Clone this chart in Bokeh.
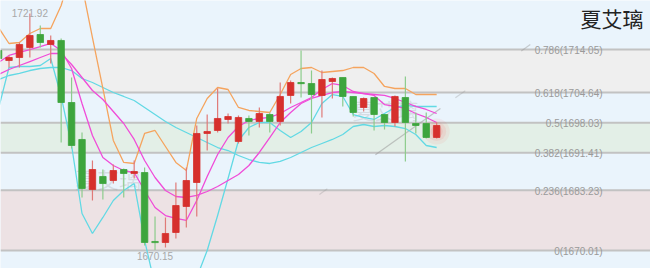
from bokeh.plotting import figure
from bokeh.models import Range1d, Label
from bokeh.embed import file_html
from bokeh.resources import INLINE
from bokeh.core.properties import value

# ---------------- data ----------------
idx = list(range(-1, 42))
opens = [1713.83, 1711.64, 1712.30, 1714.49, 1717.34, 1715.15, 1716.03, 1702.44, 1694.34, 1683.38,
         1686.23, 1685.35, 1687.76, 1686.89, 1687.10, 1671.99, 1671.77, 1673.96, 1679.66, 1684.91,
         1695.65, 1696.31, 1698.72, 1693.90, 1698.94, 1698.28, 1699.81, 1698.28, 1703.98, 1706.82,
         1706.60, 1703.98, 1707.04, 1707.92, 1703.76, 1701.35, 1703.54, 1699.81, 1698.06, 1703.54,
         1697.84, 1697.84, 1694.78]
highs = [1714.49, 1712.74, 1715.59, 1721.92, 1719.31, 1717.12, 1716.46, 1707.92, 1695.87, 1689.73,
         1687.76, 1688.86, 1687.98, 1689.73, 1688.20, 1677.46, 1677.25, 1684.91, 1688.20, 1697.40,
         1699.81, 1705.51, 1700.03, 1699.59, 1699.59, 1701.35, 1700.25, 1706.82, 1707.26, 1713.83,
         1709.45, 1709.45, 1707.92, 1707.92, 1703.76, 1703.54, 1703.54, 1699.81, 1703.98, 1708.14,
         1700.25, 1700.25, 1698.06]
lows = [1711.21, 1710.11, 1710.11, 1712.30, 1714.49, 1710.99, 1693.68, 1692.36, 1681.63, 1680.97,
        1681.19, 1684.69, 1681.63, 1685.79, 1671.11, 1670.15, 1670.67, 1672.64, 1675.05, 1677.46,
        1691.92, 1695.87, 1697.84, 1693.46, 1695.21, 1696.97, 1695.87, 1697.40, 1702.22, 1703.54,
        1695.65, 1699.16, 1703.32, 1701.57, 1699.37, 1700.47, 1696.31, 1696.53, 1697.18, 1689.51,
        1695.65, 1694.56, 1694.56]
closes = [1712.08, 1712.30, 1715.15, 1717.12, 1715.59, 1716.03, 1702.44, 1693.02, 1683.60, 1687.76,
          1684.69, 1687.54, 1686.89, 1687.32, 1671.77, 1671.77, 1673.74, 1679.87, 1685.35, 1695.65,
          1696.09, 1698.94, 1699.37, 1699.16, 1698.28, 1700.03, 1698.28, 1703.76, 1706.82, 1706.60,
          1704.19, 1707.48, 1707.70, 1703.76, 1700.25, 1703.32, 1699.81, 1698.06, 1703.76, 1698.06,
          1697.40, 1694.78, 1697.40]

upper_band = [1718.87, 1715.37, 1715.59, 1717.56, 1718.66, 1718.66, 1723.69, 1731.36, 1728.08, 1716.68,
              1705.51, 1694.12, 1689.30, 1689.08, 1695.65, 1696.31, 1692.80, 1689.30, 1687.54, 1698.94,
              1703.32, 1705.73, 1705.29, 1701.35, 1700.69, 1700.47, 1700.25, 1704.19, 1708.58, 1709.89,
              1710.11, 1709.01, 1709.23, 1709.45, 1710.11, 1710.11, 1708.80, 1705.95, 1705.51, 1705.51,
              1704.19, 1704.19, 1704.19]
ma_fast = [1711.21, 1712.74, 1713.40, 1714.05, 1714.71, 1715.37, 1713.83, 1709.89, 1702.22, 1695.21,
           1690.39, 1688.64, 1687.54, 1687.10, 1683.16, 1679.44, 1677.68, 1677.03, 1676.59, 1680.97,
           1686.23, 1691.05, 1694.77, 1697.18, 1698.50, 1698.94, 1699.16, 1700.03, 1701.35, 1702.44,
           1703.54, 1705.29, 1706.60, 1706.17, 1704.85, 1704.41, 1703.98, 1702.00, 1701.57, 1701.13,
           1700.03, 1699.16, 1698.06]
ma_slow = [1708.58, 1709.67, 1710.55, 1711.42, 1712.30, 1713.18, 1713.18, 1710.77, 1707.92, 1705.07,
           1703.10, 1700.47, 1697.84, 1694.34, 1689.73, 1686.01, 1683.16, 1681.85, 1681.63, 1682.07,
           1682.94, 1684.04, 1685.35, 1686.67, 1688.64, 1691.49, 1694.77, 1698.06, 1700.25, 1702.22,
           1703.32, 1703.98, 1704.63, 1704.85, 1704.63, 1704.41, 1704.19, 1703.98, 1703.32, 1702.44,
           1701.57, 1700.91, 1700.03]
cyan_fast = [1701.13, 1710.11, 1710.33, 1710.33, 1710.55, 1712.08, 1703.76, 1693.02, 1678.12, 1673.74,
             1677.25, 1680.97, 1683.16, 1684.69, 1672.21, 1662.35, 1657.97, 1656.87, 1660.16, 1664.10,
             1670.01, 1677.68, 1685.79, 1694.12, 1696.97, 1698.06, 1698.06, 1696.31, 1694.77, 1696.09,
             1698.06, 1702.22, 1704.19, 1703.76, 1699.81, 1699.16, 1698.72, 1700.03, 1701.35, 1701.79,
             1701.57, 1701.57, 1701.57]
cyan_slow = [1707.48, 1708.36, 1708.80, 1709.45, 1709.89, 1710.11, 1710.11, 1709.45, 1707.70, 1706.82,
             1705.73, 1704.63, 1703.76, 1702.88, 1701.35, 1699.81, 1698.28, 1696.97, 1695.87, 1694.77,
             1693.68, 1692.58, 1691.92, 1690.83, 1689.95, 1689.30, 1689.08, 1689.52, 1690.39, 1691.49,
             1692.58, 1693.46, 1694.34, 1695.43, 1697.18, 1697.62, 1697.18, 1697.40, 1697.18, 1696.74,
             1695.43, 1693.02, 1692.58]

fib_ratios = ["0.786", "0.618", "0.5", "0.382", "0.236", "0"]
fib_prices = [1714.05, 1704.64, 1698.03, 1691.41, 1683.23, 1670.01]
high_label = "1721.92"
low_label = "1670.15"
title_text = "夏艾璃"

# ---------------- styling / layout ----------------
X0, X1 = -0.815, 61.5
Y0, Y1 = 1666.07, 1724.79
BG = "#eaf4fc"
RED, RED_WICK = "#d6302d", "#e07a78"
GREEN, GREEN_WICK = "#3da53d", "#8ccc8c"

p = figure(width=650, height=268, output_backend="svg", toolbar_location=None,
           x_range=Range1d(X0, X1), y_range=Range1d(Y0, Y1),
           x_axis_location=None, y_axis_location=None,
           min_border=0, min_border_left=0, min_border_right=0,
           min_border_top=0, min_border_bottom=0)
p.grid.visible = False
p.outline_line_color = None
p.background_fill_color = BG
p.border_fill_color = BG

# fib bands
band_pairs = [(0, 1, "#efefef"), (2, 3, "#e3efe7"), (4, 5, "#ede2e4")]
p.quad(left=[X0] * 3, right=[X1] * 3,
       top=[fib_prices[a] for a, b, c in band_pairs],
       bottom=[fib_prices[b] for a, b, c in band_pairs],
       fill_color=[c for a, b, c in band_pairs], line_color=None)
# fib level lines
p.segment(x0=[X0] * 6, x1=[X1] * 6, y0=fib_prices, y1=fib_prices,
          line_color="#c2c2c2", line_width=2)
# fib labels
p.text(x=[56.9] * 6, y=fib_prices,
       text=[f"{r}({v:.2f})" for r, v in zip(fib_ratios, fib_prices)],
       text_align="right", text_baseline="middle", y_offset=1,
       text_font=value("Liberation Sans"), text_font_size="10px", text_color="#9a9a9a")

# fib diagonal (faint trend line, partly visible)
dx0, dy0 = 22.2, fib_prices[-1]
dx1, dy1 = 49.3, fib_prices[0]
pieces = [(0.279, 0.307, 0.35), (0.477, 0.707, 0.55), (0.76, 0.795, 0.35), (0.993, 1.025, 0.45)]
for t0, t1, a in pieces:
    p.line([dx0 + (dx1 - dx0) * t0, dx0 + (dx1 - dx0) * t1],
           [dy0 + (dy1 - dy0) * t0, dy0 + (dy1 - dy0) * t1],
           line_color="#9a9a9a", line_width=1.2, line_alpha=a)

# watermarks
p.text(x=[9.5, 36.1], y=[1686.0, 1701.1], text=[title_text] * 2,
       text_align="center", text_baseline="middle",
       text_font=value("Noto Sans CJK SC"), text_font_size="22px",
       text_color="#8a8a8a", text_alpha=0.22)

# indicator lines
p.line(idx, cyan_slow, line_color="#62d9e4", line_width=1.3)
p.line(idx, cyan_fast, line_color="#62d9e4", line_width=1.3)
p.line(idx, upper_band, line_color="#f5a45e", line_width=1.3)
p.line(idx, ma_slow, line_color="#f04cd8", line_width=1.3)
p.line(idx, ma_fast, line_color="#f04cd8", line_width=1.3)

# glow on last candle
for s, a in [(26, 0.07), (19, 0.09), (12, 0.12)]:
    p.scatter([idx[-1]], [(opens[-1] + closes[-1]) / 2], size=s,
              fill_color="#ff4040", fill_alpha=a, line_color=None)

# candles
up = [c >= o for o, c in zip(opens, closes)]
wick_col = [RED_WICK if u else GREEN_WICK for u in up]
body_col = [RED if u else GREEN for u in up]
p.segment(x0=idx, x1=idx, y0=highs, y1=lows, line_color=wick_col, line_width=1.2)
tops = [max(o, c) for o, c in zip(opens, closes)]
bots = [min(o, c) for o, c in zip(opens, closes)]
bots = [b if t - b > 0.25 else t - 0.25 for t, b in zip(tops, bots)]
p.vbar(x=idx, top=tops, bottom=bots, width=0.62,
       fill_color=body_col, line_color=body_col, line_width=0.8)

# high / low labels
hi_i = highs.index(max(highs))
lo_i = lows.index(min(lows))
p.text(x=[idx[hi_i]], y=[highs[hi_i]], text=[high_label], text_align="center",
       text_baseline="alphabetic", y_offset=-1,
       text_font=value("Liberation Sans"), text_font_size="10px", text_color="#a8a8a8")
p.text(x=[idx[lo_i]], y=[lows[lo_i]], text=[low_label], text_align="center",
       text_baseline="top", y_offset=2,
       text_font=value("Liberation Sans"), text_font_size="10px", text_color="#a8a8a8")

# title
p.add_layout(Label(x=643, y=266, x_units="screen", y_units="screen", text=title_text,
                   text_align="right", text_baseline="top",
                   text_font="Noto Sans CJK SC", text_font_size="21px", text_color="#222222"))

open("out.html", "w").write(file_html(p, INLINE))
